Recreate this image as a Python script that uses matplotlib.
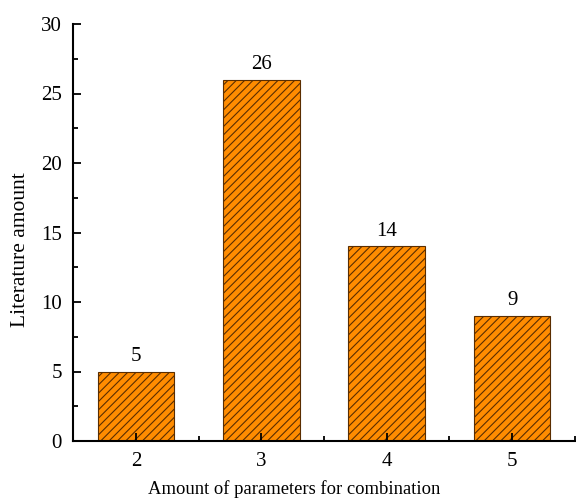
import matplotlib
matplotlib.use("Agg")
import matplotlib.pyplot as plt
from matplotlib.ticker import MultipleLocator

# datos
n_params = [2, 3, 4, 5]
literature = [5, 26, 14, 9]

plt.rcParams.update({
    "font.family": "Liberation Serif",
    "font.size": 15,
    "hatch.linewidth": 0.8,
    "hatch.color": "black",
})

fig = plt.figure(figsize=(5.76, 5.0), dpi=100)
ax = fig.add_axes([0.127, 0.118, 0.871, 0.834])

bars = ax.bar(n_params, literature, width=0.61, color="#FF8C00",
              edgecolor="#5a2d00", linewidth=0.8, hatch="////")
for b, v in zip(bars, literature):
    ax.text(b.get_x() + b.get_width() / 2, v + 0.4, f"{v}",
            ha="center", va="bottom", fontsize=15)

ax.set_xlim(1.5, 5.5)
ax.set_ylim(0, 30)
ax.set_xticks(n_params)
ax.xaxis.set_minor_locator(MultipleLocator(0.5))
ax.yaxis.set_major_locator(MultipleLocator(5))
ax.yaxis.set_minor_locator(MultipleLocator(2.5))

for s in ("top", "right"):
    ax.spines[s].set_visible(False)
for s in ("left", "bottom"):
    ax.spines[s].set_linewidth(1.5)

ax.tick_params(which="both", direction="in", width=1.3)
ax.tick_params(which="major", length=6, labelsize=15, pad=8)
ax.tick_params(which="minor", length=3.5)

ax.set_xlabel("Amount of parameters for combination", fontsize=13.4)
ax.set_ylabel("Literature amount", fontsize=15.5)
# en el original las etiquetas de los ejes no están centradas
ax.xaxis.set_label_coords(0.44, -0.095)
ax.yaxis.set_label_coords(-0.087, 0.458)

fig.savefig("out.png", dpi=100)
